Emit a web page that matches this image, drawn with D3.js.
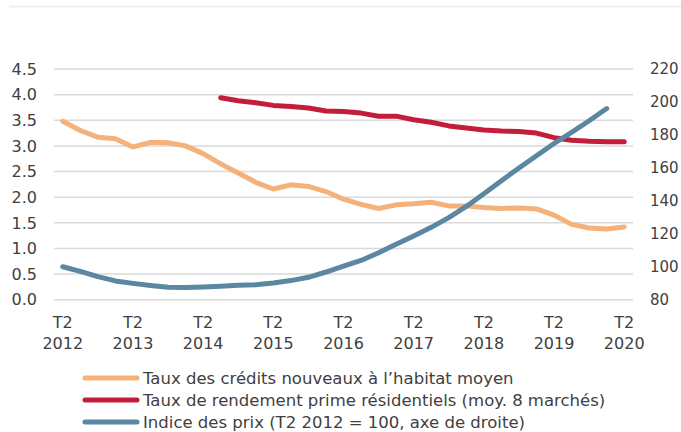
<!DOCTYPE html>
<html>
<head>
<meta charset="utf-8">
<script src="https://cdn.jsdelivr.net/npm/d3@7"></script>
<style>
  body { margin: 0; background: #fff; }
  svg text { font-family: "DejaVu Sans", sans-serif; fill: #404040; }
</style>
</head>
<body>
<div id="chart"></div>
<script>
// Quarters T2 2012 .. T2 2020
var quarters = [];
for (var y = 2012; y <= 2020; y++) {
  [1, 2, 3, 4].forEach(function (q) {
    if ((y === 2012 && q < 2) || (y === 2020 && q > 2)) return;
    quarters.push('T' + q + ' ' + y);
  });
}

// Taux des crédits nouveaux à l'habitat moyen (%)
var creditRate = [3.48, 3.30, 3.17, 3.14, 2.98, 3.07, 3.06, 3.00, 2.85, 2.65, 2.47, 2.29, 2.16, 2.24, 2.21, 2.11,
  1.96, 1.86, 1.78, 1.85, 1.87, 1.90, 1.83, 1.83, 1.80, 1.78, 1.79, 1.77, 1.65, 1.47, 1.40, 1.38, 1.42];

// Taux de rendement prime résidentiels (%), starts T3 2014
var primeYield = [null, null, null, null, null, null, null, null, null,
  3.94, 3.88, 3.84, 3.79, 3.77, 3.74, 3.68, 3.67, 3.64, 3.58, 3.58, 3.51, 3.46, 3.39, 3.35, 3.31, 3.29, 3.28, 3.25,
  3.16, 3.11, 3.09, 3.08, 3.08];

// Indice des prix (T2 2012 = 100), ends T1 2020
var priceIndex = [100, 97.2, 94.0, 91.4, 89.9, 88.6, 87.5, 87.4, 87.7, 88.2, 88.7, 89.1, 90.1, 91.6, 93.6, 96.8,
  100.4, 103.8, 108.5, 113.6, 118.7, 123.9, 129.8, 136.6, 144.3, 152.2, 159.9, 167.4, 174.8, 181.6, 188.6, 196.0, null];

var leftTicks = [0, 0.5, 1, 1.5, 2, 2.5, 3, 3.5, 4, 4.5];
var rightTicks = [80, 100, 120, 140, 160, 180, 200, 220];

var seriesNames = [
  'Taux des crédits nouveaux à l\u2019habitat moyen',
  'Taux de rendement prime résidentiels (moy. 8 marchés)',
  'Indice des prix (T2 2012 = 100, axe de droite)'
];
var colors = ['#f4b17a', '#c41d3b', '#5b87a2'];

var width = 681, height = 432;
var margin = { left: 54, right: 48, top: 69, bottom: 133 };

var svg = d3.select('#chart').append('svg')
  .attr('width', width)
  .attr('height', height);

// thin line on top
svg.append('line')
  .attr('x1', 9).attr('x2', width)
  .attr('y1', 6.5).attr('y2', 6.5)
  .attr('stroke', '#f0f0f0').attr('stroke-width', 2);

var x = d3.scaleBand()
  .domain(quarters)
  .range([margin.left, width - margin.right]);

var yLeft = d3.scaleLinear()
  .domain([0, 4.5])
  .range([height - margin.bottom + 0.7, margin.top]);

var yRight = d3.scaleLinear()
  .domain([80, 220])
  .range(yLeft.range());

var cx = function (i) { return x(quarters[i]) + x.bandwidth() / 2; };

// gridlines
svg.append('g')
  .selectAll('line')
  .data(leftTicks)
  .join('line')
  .attr('x1', margin.left).attr('x2', width - margin.right)
  .attr('y1', function (d) { return yLeft(d); })
  .attr('y2', function (d) { return yLeft(d); })
  .attr('stroke', '#d9d9d9').attr('stroke-width', 1.5);

// left axis labels
svg.append('g')
  .selectAll('text')
  .data(leftTicks)
  .join('text')
  .attr('x', 37)
  .attr('y', function (d) { return yLeft(d); })
  .attr('dy', '0.36em')
  .attr('text-anchor', 'end')
  .style('font-size', '16px')
  .text(function (d) { return d3.format('.1f')(d); });

// right axis labels
svg.append('g')
  .selectAll('text')
  .data(rightTicks)
  .join('text')
  .attr('x', 650)
  .attr('y', function (d) { return yRight(d); })
  .attr('dy', '0.36em')
  .attr('text-anchor', 'start')
  .style('font-size', '15px')
  .text(function (d) { return d; });

// x axis labels (every 4 quarters)
var xl = svg.append('g')
  .selectAll('text')
  .data(quarters.filter(function (q) { return q.indexOf('T2') === 0; }))
  .join('text')
  .attr('text-anchor', 'middle')
  .style('font-size', '16px')
  .attr('transform', function (d) { return 'translate(' + (x(d) + x.bandwidth() / 2) + ',0)'; });
xl.append('tspan').attr('x', 0).attr('y', 328).text(function (d) { return d.split(' ')[0]; });
xl.append('tspan').attr('x', 0).attr('y', 349).text(function (d) { return d.split(' ')[1]; });

// lines
function drawLine(values, scale, color) {
  var line = d3.line()
    .defined(function (d) { return d != null; })
    .x(function (d, i) { return cx(i); })
    .y(function (d) { return scale(d); });
  svg.append('path')
    .datum(values)
    .attr('fill', 'none')
    .attr('stroke', color)
    .attr('stroke-width', 5)
    .attr('stroke-linejoin', 'round')
    .attr('stroke-linecap', 'round')
    .attr('d', line);
}
drawLine(creditRate, yLeft, colors[0]);
drawLine(primeYield, yLeft, colors[1]);
drawLine(priceIndex, yRight, colors[2]);

// legend
var legend = svg.append('g')
  .selectAll('g')
  .data(seriesNames)
  .join('g')
  .attr('transform', function (d, i) { return 'translate(0,' + (378 + i * 22) + ')'; });
legend.append('line')
  .attr('x1', 85).attr('x2', 137)
  .attr('stroke', function (d, i) { return colors[i]; })
  .attr('stroke-width', 5)
  .attr('stroke-linecap', 'round');
legend.append('text')
  .attr('x', 143)
  .attr('dy', '0.36em')
  .style('font-size', '16.5px')
  .text(function (d) { return d; });
</script>
</body>
</html>
